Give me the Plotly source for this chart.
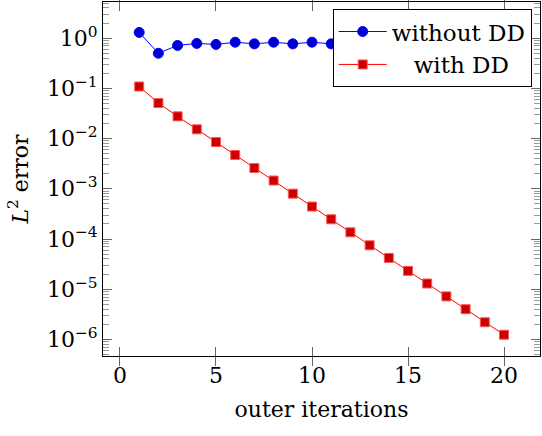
import plotly.graph_objects as go

iterations = list(range(1, 21))
err_without_dd = [1.30, 0.50, 0.716, 0.785, 0.75, 0.83, 0.77, 0.83, 0.77, 0.83,
                  0.77, 0.83, 0.77, 0.83, 0.77, 0.83, 0.77, 0.83, 0.77, 0.83]
err_with_dd = [0.109, 0.051, 0.0277, 0.0153, 0.00853, 0.00471, 0.00259, 0.00146,
               8.0e-4, 4.43e-4, 2.47e-4, 1.36e-4, 7.5e-5, 4.2e-5, 2.32e-5, 1.30e-5,
               7.2e-6, 4.0e-6, 2.2e-6, 1.24e-6]

x_ticks = [0, 5, 10, 15, 20]
y_exponents = [0, -1, -2, -3, -4, -5, -6]

FONT = "DejaVu Serif"

fig = go.Figure()
# empty trace so the minor-tick overlay axis gets drawn
fig.add_trace(go.Scatter(x=[], y=[], yaxis="y2", showlegend=False, hoverinfo="skip"))
fig.add_trace(go.Scatter(
    x=iterations, y=err_without_dd, mode="lines+markers", name="without DD",
    line=dict(color="#0000FF", width=1),
    marker=dict(symbol="circle", size=10, color="#0000CC", line=dict(color="#0000FF", width=1)),
))
fig.add_trace(go.Scatter(
    x=iterations, y=err_with_dd, mode="lines+markers", name="\u00a0\u00a0\u00a0with DD",
    line=dict(color="#FF0000", width=1),
    marker=dict(symbol="square", size=9, color="#CC0000", line=dict(color="#FF5555", width=1)),
))

ytickvals = [10.0 ** e for e in y_exponents]
yticktext = ["10<sup>%s</sup>" % (str(e).replace("-", "\u2212")) for e in y_exponents]
minor_vals = [m * 10.0 ** e for e in range(-7, 1) for m in range(2, 10)]
y_range = [-6.33, 0.72]

fig.update_layout(
    width=542, height=436,
    margin=dict(l=103, r=2, t=2, b=80),
    paper_bgcolor="white", plot_bgcolor="white",
    font=dict(family=FONT, size=22, color="black"),
    showlegend=True,
    legend=dict(
        x=0.981, y=0.98, xanchor="right", yanchor="top",
        bgcolor="white", bordercolor="black", borderwidth=1,
        font=dict(family=FONT, size=23),
        tracegroupgap=0, itemwidth=48,
    ),
    xaxis=dict(
        range=[-0.885, 21.875], tickvals=x_ticks, ticktext=[str(v) for v in x_ticks],
        ticks="inside", ticklen=9, tickcolor="#666", tickwidth=1,
        showline=True, linecolor="black", linewidth=1, mirror="allticks",
        showgrid=False, zeroline=False,
        title=dict(text="outer iterations", standoff=14, font=dict(size=22)),
        tickfont=dict(size=22),
    ),
    yaxis=dict(
        type="log", range=y_range,
        tickvals=ytickvals, ticktext=yticktext,
        ticks="inside", ticklen=9, tickcolor="#666", tickwidth=1,
        showline=True, linecolor="black", linewidth=1, mirror="allticks",
        showgrid=False, zeroline=False,
        title=dict(text="<i>L</i><sup>2</sup> error", standoff=12, font=dict(size=22)),
        tickfont=dict(size=22),
    ),
    yaxis2=dict(
        type="log", range=y_range, overlaying="y", side="left", anchor="x",
        tickvals=minor_vals, showticklabels=False,
        ticks="inside", ticklen=6, tickcolor="#999", tickwidth=1,
        showline=True, linecolor="black", linewidth=1, mirror="ticks",
        showgrid=False, zeroline=False,
    ),
)

fig.write_html("out.html")
